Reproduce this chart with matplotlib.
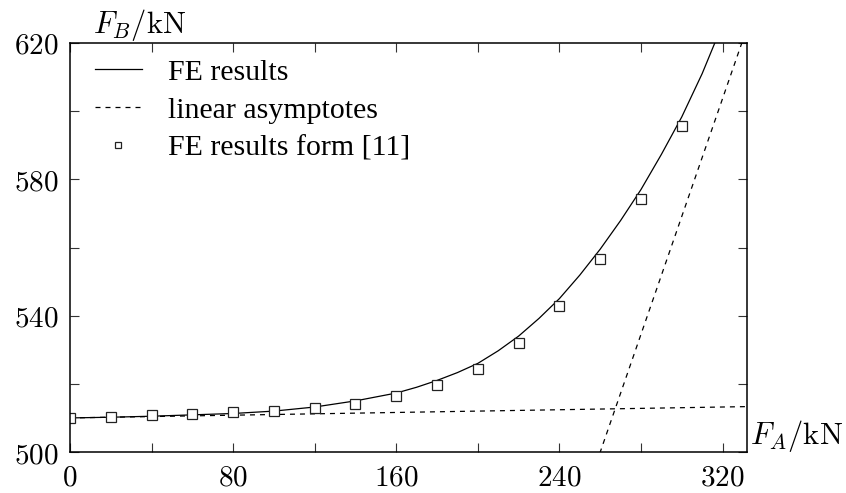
import matplotlib
matplotlib.use("Agg")
import matplotlib.pyplot as plt
import numpy as np

# FE results curve
fe_x = [0, 20, 40, 60, 80, 100, 120, 140, 160, 170, 180, 190, 200, 210, 220, 230,
        240, 250, 260, 270, 280, 290, 300, 310, 320]
fe_y = [510.0, 510.2, 510.5, 510.9, 511.3, 512.0, 513.2, 515.0, 517.3, 519.0, 521.0,
        523.3, 526.0, 529.7, 534.0, 539.2, 545.0, 551.9, 559.5, 567.9, 577.0, 587.3,
        598.3, 611.0, 625.5]

# linear asymptotes
asym1_x = [0, 340]
asym1_y = [510.0, 513.4]
asym2_x = [255, 335]
asym2_y = [491.3, 629.6]

# FE results from [11]
ref_x = [0, 20, 40, 60, 80, 100, 120, 140, 160, 180, 200, 220, 240, 260, 280, 300]
ref_y = [510.0, 510.4, 510.9, 511.2, 511.6, 511.9, 512.9, 514.1, 516.4, 519.7, 524.4,
         532.1, 542.8, 556.5, 574.1, 595.7]

xticks_major = [0, 80, 160, 240, 320]
xticks_minor = [40, 120, 200, 280]
yticks_major = [500, 540, 580, 620]
yticks_minor = [520, 560, 600]

plt.rcParams['mathtext.fontset'] = 'cm'

fig = plt.figure(figsize=(8.46, 4.93), dpi=100)
ax = fig.add_axes([70/846, 1-452/493, 677/846, 409/493])

ax.plot(fe_x, fe_y, color='black', lw=0.9, label='FE results')
ax.plot(asym1_x, asym1_y, color='black', lw=0.9, ls=(0, (4, 4)), label='linear asymptotes')
ax.plot(asym2_x, asym2_y, color='black', lw=0.9, ls=(0, (4, 4)))
ax.plot(ref_x, ref_y, ls='none', marker='s', ms=7.5, mfc='white', mec='#222222',
        mew=0.9, label='FE results form [11]')

ax.set_xlim(0, 332)
ax.set_ylim(500, 620)

ax.set_xticks(xticks_major)
ax.set_xticks(xticks_minor, minor=True)
ax.set_yticks(yticks_major)
ax.set_yticks(yticks_minor, minor=True)
ax.set_xticklabels([r'$%d$' % v for v in xticks_major])
ax.set_yticklabels([r'$%d$' % v for v in yticks_major])
for which in ('major', 'minor'):
    ax.tick_params(axis='both', which=which, direction='in', length=6.5, width=0.8,
                   top=True, right=True, labelsize=21, color='#333333')
ax.tick_params(axis='x', which='major', pad=8)
ax.tick_params(axis='y', which='major', pad=8)
for sp in ax.spines.values():
    sp.set_linewidth(1.1)

fig.text(93/846, 1-25/493, r'$F_B/\mathrm{kN}$', fontsize=22, ha='left', va='center')
fig.text(750/846, 1-436/493, r'$F_A/\mathrm{kN}$', fontsize=22, ha='left', va='center')

leg = ax.legend(loc='upper left', bbox_to_anchor=(25/677, 1 - 16/409), frameon=False,
                prop={'family': 'Liberation Serif', 'size': 21.5},
                handlelength=1.57, handletextpad=0.87, labelspacing=0.37,
                markerscale=0.6, borderaxespad=0, borderpad=0)

fig.savefig('out.png', dpi=100)
